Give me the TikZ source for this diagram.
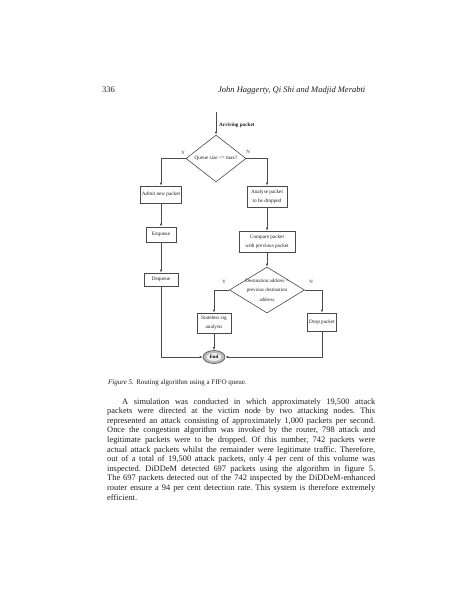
\documentclass[tikz,border=0pt]{standalone}
\usepackage{fontspec}
\setmainfont{Liberation Serif}
\usetikzlibrary{shapes.geometric, arrows.meta, positioning}
\definecolor{colorLine}{HTML}{4a4a4a}
\definecolor{colorInk}{HTML}{1e1e1e}

\tikzset{
  flowbox/.style={draw=colorLine, line width=0.6pt, inner sep=0pt, align=center,
    font=\fontsize{5.2}{9}\selectfont, text=colorInk},
  flowdia/.style={draw=colorLine, line width=0.6pt, diamond, inner sep=0pt,
    font=\fontsize{5.2}{9}\selectfont, text=colorInk},
  flowarrow/.style={draw=colorLine, line width=0.6pt, -{Latex[length=3pt,width=2.4pt]}},
  branch/.style={font=\fontsize{4.8}{5}\selectfont, text=colorInk, inner sep=0pt},
  endnode/.style={draw=colorLine, line width=0.6pt, ellipse, fill=gray!55, inner sep=0pt,
    minimum width=22pt, minimum height=13pt, font=\bfseries\fontsize{4.8}{5}\selectfont,
    path picture={\fill[gray!15] (path picture bounding box.center) ellipse (7.5pt and 4pt);}},
  pagetext/.style={inner sep=0pt, text=colorInk},
}

\begin{document}
\begin{tikzpicture}[x=1pt, y=-1pt]
    \useasboundingbox[fill=white] (0,0) rectangle (474,611);

    % running head
    \node[pagetext, anchor=west, font=\fontsize{8.5}{10}\selectfont] (pageno) at (102,90) {336};
    \node[pagetext, anchor=west, font=\itshape\fontsize{8.5}{10}\selectfont] (running) at (218,90)
        {John Haggerty, Qi Shi and Madjid Merabti};

    % flowchart
    \coordinate (arrive) at (216,112);
    \node[branch, anchor=west, font=\bfseries\fontsize{5.2}{6}\selectfont] (arrivetext) at (219,125) {Arriving packet};
    \node[flowdia, minimum width=60pt, minimum height=33pt] (queue) at (216,158.5) {Queue size <= max?};

    \node[flowbox, minimum width=41pt, minimum height=17pt] (admit) at (161,194.5) {Admit new packet};
    \node[flowbox, minimum width=30pt, minimum height=15pt] (enq) at (161,234.5) {Enqueue};
    \node[flowbox, minimum width=34pt, minimum height=13pt] (deq) at (161,279.5) {Dequeue};

    \node[flowbox, minimum width=40pt, minimum height=21pt] (analyse) at (267,196.5) {Analyse packet\\to be dropped};
    \node[flowbox, minimum width=56pt, minimum height=21pt] (compare) at (267,241.5) {Compare packet\\with previous packet};
    \node[flowdia, minimum width=75pt, minimum height=46pt] (dest) at (267,290) {};
    \node[flowbox, draw=none, font=\fontsize{5}{9.5}\selectfont] (desttext) at (dest) {Destination address =\\previous destination\\address};

    \node[flowbox, minimum width=34pt, minimum height=20pt] (sig) at (214,323) {Stateless sig\\analysis};
    \node[flowbox, minimum width=29pt, minimum height=18pt] (drop) at (322,322) {Drop packet};
    \node[endnode] (end) at (214,357) {End};

    % branch letters
    \node[branch] (qy) at (183,153) {Y};
    \node[branch] (qn) at (248,152) {N};
    \node[branch] (dy) at (224,282) {Y};
    \node[branch] (dn) at (311,282) {N};

    % connectors
    \draw[flowarrow] (arrive) -- (queue.north);
    \draw[flowarrow] (queue.west) -| (admit.north);
    \draw[flowarrow] (queue.east) -| (analyse.north);
    \draw[flowarrow] (admit) -- (enq);
    \draw[flowarrow] (enq) -- (deq);
    \draw[flowarrow] (analyse) -- (compare);
    \draw[flowarrow] (compare) -- (dest.north);
    \draw[flowarrow] (dest.west) -| (sig.north);
    \draw[flowarrow] (dest.east) -| (drop.north);
    \draw[flowarrow] (sig) -- (end);
    \draw[flowarrow] (deq.south) |- (end.west);
    \draw[flowarrow] (drop.south) |- (end.east);

    % caption and body text
    \node[pagetext, anchor=west, font=\fontsize{7}{8}\selectfont] (caption) at (108,383)
        {\textit{Figure 5.} Routing algorithm using a FIFO queue.};
    \node[pagetext, anchor=north west, text width=268pt, align=justify,
          font=\fontsize{8.4}{9.6}\selectfont] (para) at (107,398)
        {\frenchspacing\tolerance=9999\hyphenpenalty=10000\hspace*{15pt}A simulation was conducted in which approximately 19,500 attack\linebreak
        packets were directed at the victim node by two attacking nodes. This\linebreak
        represented an attack consisting of approximately 1,000 packets per second.\linebreak
        Once the congestion algorithm was invoked by the router, 798 attack and\linebreak
        legitimate packets were to be dropped. Of this number, 742 packets were\linebreak
        actual attack packets whilst the remainder were legitimate traffic. Therefore,\linebreak
        out of a total of 19,500 attack packets, only 4 per cent of this volume was\linebreak
        inspected. DiDDeM detected 697 packets using the algorithm in figure 5.\linebreak
        The 697 packets detected out of the 742 inspected by the DiDDeM-enhanced\linebreak
        router ensure a 94 per cent detection rate. This system is therefore extremely\linebreak
        efficient.};
\end{tikzpicture}
\end{document}
